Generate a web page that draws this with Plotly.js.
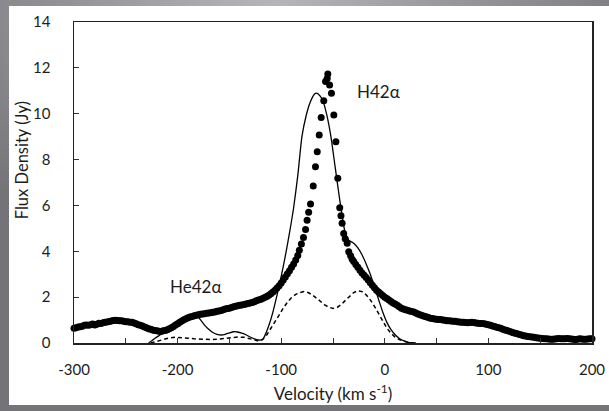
<!DOCTYPE html>
<html>
<head>
<meta charset="utf-8">
<script src="https://cdn.plot.ly/plotly-3.0.1.min.js"></script>
<style>
  html, body { margin: 0; padding: 0; }
  body {
    width: 609px; height: 411px; overflow: hidden; position: relative;
    background: radial-gradient(ellipse 70% 60% at 45% 0%, #b6b6ba 0%, #96969a 45%, #747478 100%);
  }
  #panel {
    position: absolute; left: 9px; top: 6px; width: 600px; height: 399px;
    background: #ffffff; overflow: hidden;
  }
  #chart { position: absolute; left: -9px; top: -6px; width: 609px; height: 411px; }
</style>
</head>
<body>
<div id="panel"><div id="chart"></div></div>
<script>
// Observed spectrum (dots)
const obsVel = [
  -300,-298,-296,-294,-292,-290,-288,-286,-284,-282,-280,-278,-276,-274,-272,-270,-268,-266,-264,-262,
  -260,-258,-256,-254,-252,-250,-248,-246,-244,-242,-240,-238,-236,-234,-232,-230,-228,-226,-224,-222,
  -220,-218,-216,-214,-212,-210,-208,-206,-204,-202,-200,-198,-196,-194,-192,-190,-188,-186,-184,-182,
  -180,-178,-176,-174,-172,-170,-168,-166,-164,-162,-160,-158,-156,-154,-152,-150,-148,-146,-144,-142,
  -140,-138,-136,-134,-132,-130,-128,-126,-124,-122,-120,-118,-116,-114,-112,-110,-108,-106,-104,-102,
  -100,-98,-96,-94,-92,-90,-88,-86,-84,-82.5,-80.5,-78.5,-76.5,-75,-73.5,-71.7,-69.1,-66.9,-65.2,-63.3,
  -61.4,-58.9,-57.2,-55.6,-55,-53.3,-51.5,-49.2,-47.2,-45.4,-43.5,-42.3,-41.2,-39.7,-38.2,-36.3,-34.8,-33,-31.5,
  -30,-28,-26,-24,-22,-20,-18,-16,-14,-12,-10,-8,-6,-4,-2,0,2,4,6,8,
  10,12,14,16,18,20,22,24,26,28,30,32,34,36,38,40,42,44,46,48,
  50,52,54,56,58,60,62,64,66,68,70,72,74,76,78,80,82,84,86,88,
  90,92,94,96,98,100,102,104,106,108,110,112,114,116,118,120,122,124,126,128,
  130,132,134,136,138,140,142,144,146,148,150,152,154,156,158,160,162,164,166,168,
  170,172,174,176,178,180,182,184,186,188,190,192,194,196,198,200
];
const obsFlux = [
  0.64,0.67,0.70,0.71,0.73,0.77,0.78,0.77,0.80,0.83,0.79,0.82,0.86,0.85,0.88,0.91,0.92,0.94,0.96,0.98,
  0.99,0.98,0.97,0.97,0.95,0.93,0.93,0.91,0.90,0.87,0.84,0.80,0.77,0.74,0.70,0.66,0.62,0.60,0.57,0.55,
  0.53,0.51,0.50,0.53,0.55,0.58,0.62,0.66,0.72,0.78,0.84,0.90,0.96,1.01,1.06,1.10,1.13,1.16,1.19,1.21,
  1.23,1.25,1.27,1.28,1.30,1.31,1.32,1.34,1.35,1.38,1.40,1.42,1.45,1.48,1.50,1.52,1.55,1.58,1.60,1.63,
  1.65,1.66,1.68,1.70,1.72,1.75,1.77,1.80,1.84,1.87,1.90,1.94,1.98,2.03,2.08,2.15,2.22,2.30,2.40,2.50,
  2.62,2.75,2.88,3.02,3.15,3.30,3.45,3.62,3.82,4.05,4.32,4.60,4.95,5.35,5.70,6.06,6.85,7.69,8.34,9.07,
  9.84,10.57,11.40,11.54,11.73,11.25,10.89,9.94,8.78,7.18,5.90,5.55,5.22,4.78,4.55,4.35,3.98,3.80,3.65,
  3.55,3.42,3.30,3.17,3.05,2.95,2.86,2.75,2.63,2.52,2.41,2.30,2.22,2.15,2.07,2.00,1.94,1.88,1.81,1.75,
  1.70,1.65,1.58,1.52,1.48,1.45,1.43,1.40,1.37,1.35,1.31,1.27,1.23,1.20,1.17,1.14,1.11,1.08,1.07,1.05,
  1.04,1.03,1.02,1.00,0.99,0.97,0.97,0.96,0.95,0.95,0.93,0.92,0.91,0.90,0.89,0.88,0.89,0.90,0.89,0.87,
  0.86,0.85,0.85,0.84,0.82,0.80,0.77,0.74,0.72,0.69,0.66,0.64,0.60,0.57,0.54,0.51,0.48,0.45,0.42,0.40,
  0.37,0.35,0.32,0.30,0.28,0.27,0.26,0.25,0.23,0.22,0.21,0.20,0.19,0.18,0.17,0.16,0.16,0.17,0.19,0.20,
  0.19,0.18,0.19,0.20,0.18,0.17,0.16,0.15,0.16,0.18,0.17,0.16,0.16,0.17,0.18,0.18
];

// Model total (solid line)
const fitVel = [
  -228,-222,-216,-210,-204,-198,-192,-186,-182,-178,-174,-170,-166,-162,-158,-154,-150,-146,-142,-138,
  -134,-130,-126,-122,-118,-116,-112,-108,-104,-100,-96,-92,-88,-84,-80,-76,-72,-68,-66,-64,
  -60,-56,-52,-48,-44,-41,-38,-35,-30,-26,-22,-18,-14,-10,-6,-2,2,6,10,14,
  18,22,26,30
];
const fitFlux = [
  0.00,0.20,0.38,0.58,0.80,1.00,1.15,1.22,1.20,1.02,0.78,0.60,0.46,0.38,0.35,0.38,0.44,0.49,0.48,0.43,
  0.36,0.26,0.18,0.13,0.15,0.30,0.75,1.35,2.10,2.90,3.80,4.80,5.90,7.30,9.00,9.90,10.50,10.85,10.90,10.85,
  10.60,9.95,9.00,7.70,6.40,5.50,4.75,4.50,4.35,4.15,3.85,3.45,3.00,2.45,1.90,1.35,0.90,0.58,0.36,0.20,
  0.10,0.04,0.01,0.00
];

// Component (dashed line)
const compVel = [
  -226,-220,-214,-208,-202,-196,-190,-184,-178,-172,-166,-160,-154,-148,-142,-136,-130,-126,-122,-118,
  -114,-110,-106,-102,-98,-94,-90,-86,-82,-78,-74,-70,-66,-62,-58,-54,-50,-46,-42,-38,
  -34,-30,-26,-22,-18,-14,-10,-6,-2,2,6,10,14,18,22,26
];
const compFlux = [
  0.00,0.07,0.16,0.22,0.25,0.24,0.21,0.18,0.16,0.15,0.15,0.17,0.20,0.24,0.26,0.25,0.20,0.14,0.08,0.15,
  0.35,0.62,0.92,1.22,1.52,1.78,1.98,2.12,2.20,2.24,2.20,2.10,1.96,1.80,1.66,1.56,1.51,1.55,1.68,1.86,
  2.05,2.20,2.28,2.24,2.10,1.88,1.60,1.28,0.95,0.65,0.42,0.26,0.15,0.08,0.03,0.00
];

const xTickVals = [-300,-200,-100,0,100,200];
const xTickText = ['-300','-200','-100','0','100','200'];
const yTickVals = [0,2,4,6,8,10,12,14];
const yTickText = ['0','2','4','6','8','10','12','14'];

const labels = [
  {text: 'He42α', x: -183, y: 2.46},
  {text: 'H42α', x: -6, y: 10.98}
];

const FONT = 'Lato, "Open Sans", "DejaVu Sans", sans-serif';
const TXT = '#1c1c1c';

const traces = [
  {x: compVel, y: compFlux, type: 'scatter', mode: 'lines',
   line: {color: '#000', width: 1.5, dash: '4px,3px'}, hoverinfo: 'skip'},
  {x: fitVel, y: fitFlux, type: 'scatter', mode: 'lines',
   line: {color: '#000', width: 1.3, shape: 'spline', smoothing: 0.6}, hoverinfo: 'skip'},
  {x: obsVel, y: obsFlux, type: 'scatter', mode: 'markers', cliponaxis: false,
   marker: {color: '#000', size: 7}, hoverinfo: 'skip'}
];

const layout = {
  width: 609, height: 411,
  margin: {l: 74, r: 17, t: 22, b: 68},
  paper_bgcolor: 'rgba(0,0,0,0)',
  plot_bgcolor: '#ffffff',
  showlegend: false,
  font: {family: FONT, color: TXT, size: 15},
  xaxis: {
    range: [-300, 200],
    tickmode: 'array', tickvals: xTickVals, ticktext: xTickText,
    ticks: 'inside', ticklen: 5, tickwidth: 1, tickcolor: '#333',
    minor: {dtick: 50, tick0: -300, ticks: 'inside', ticklen: 5, tickwidth: 1, tickcolor: '#333', showgrid: false},
    showline: true, linecolor: '#222', linewidth: 1.5, mirror: true,
    showgrid: false, zeroline: false,
    tickfont: {family: FONT, size: 15, color: TXT},
    ticklabelstandoff: 12,
    title: {text: 'Velocity (km s<sup>-1</sup>)', font: {family: FONT, size: 17, color: TXT}, standoff: 11}
  },
  yaxis: {
    range: [0, 14],
    tickmode: 'array', tickvals: yTickVals, ticktext: yTickText,
    ticks: 'inside', ticklen: 5, tickwidth: 1, tickcolor: '#333',
    showline: true, linecolor: '#222', linewidth: 1.5, mirror: true,
    showgrid: false, zeroline: false,
    tickfont: {family: FONT, size: 15, color: TXT},
    ticklabelstandoff: 19
  },
  annotations: labels.map(l => ({
    text: l.text, x: l.x, y: l.y, xref: 'x', yref: 'y',
    showarrow: false, xanchor: 'center', yanchor: 'middle',
    font: {family: FONT, size: 17, color: TXT}
  })).concat([{
    text: 'Flux Density (Jy)', xref: 'paper', yref: 'paper',
    x: -0.1, y: 0.57, textangle: -90, showarrow: false,
    xanchor: 'center', yanchor: 'middle',
    font: {family: FONT, size: 16.5, color: TXT}
  }])
};

Plotly.newPlot('chart', traces, layout, {staticPlot: true, displayModeBar: false});
</script>
</body>
</html>
